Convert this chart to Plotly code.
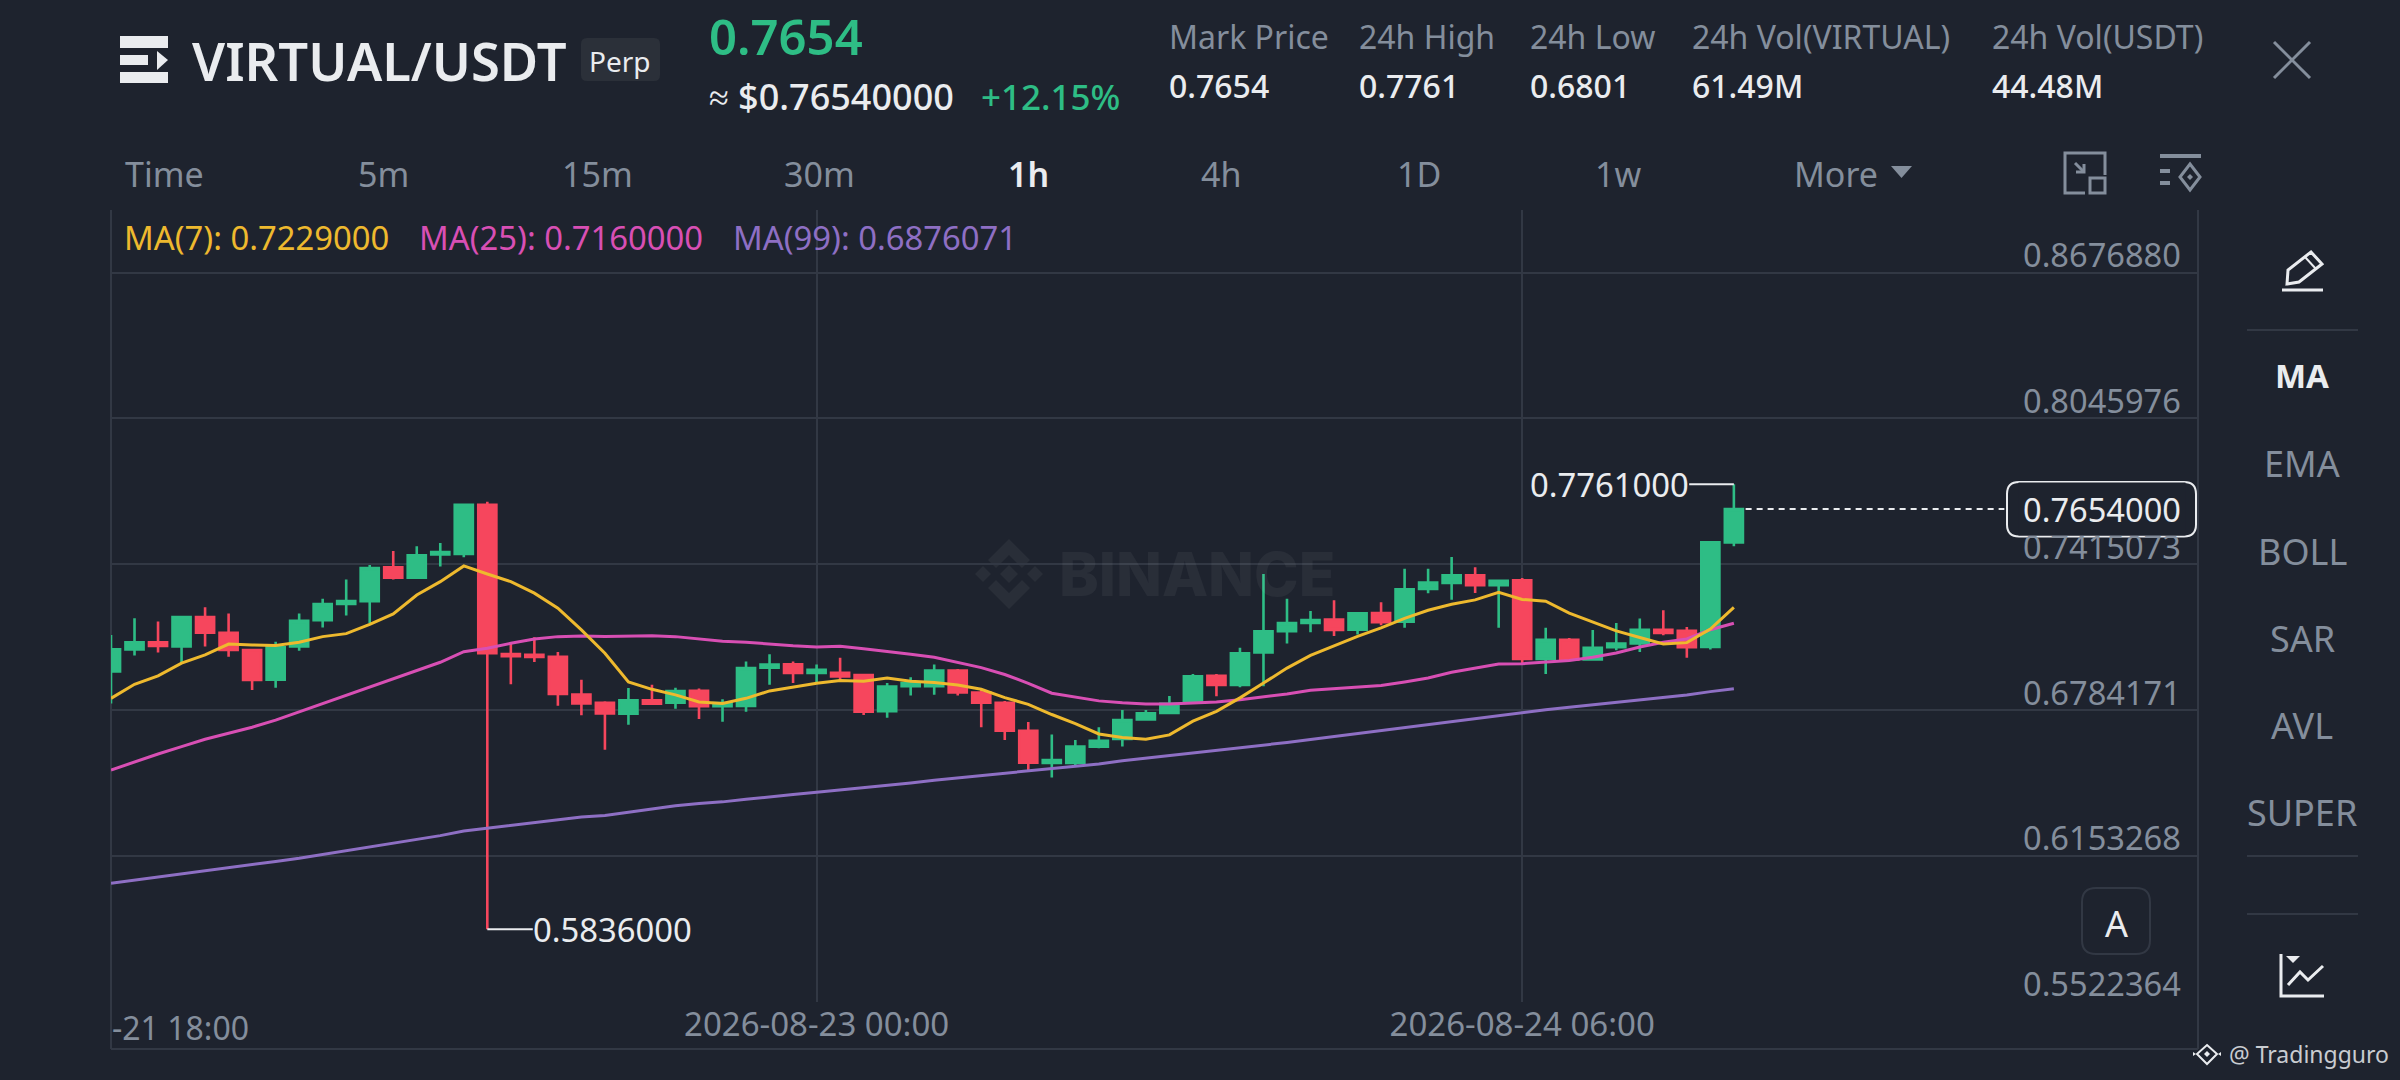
import pandas as pd
import plotly.graph_objects as go

# 1h candles
START = "2026-08-21 18:00"
OPEN = [0.6951, 0.7046, 0.7078, 0.7060, 0.7187, 0.7119, 0.7044, 0.6916, 0.7059, 0.7173,
        0.7243, 0.7255, 0.7402, 0.7357, 0.7458, 0.7460, 0.7672, 0.7027, 0.7023, 0.7015,
        0.6851, 0.6816, 0.6769, 0.6827, 0.6816, 0.6868, 0.6801, 0.6802, 0.6968, 0.6982,
        0.6945, 0.6945, 0.6936, 0.6779, 0.6888, 0.6888, 0.6955, 0.6860, 0.6816, 0.6695,
        0.6555, 0.6555, 0.6626, 0.6659, 0.6744, 0.6772, 0.6822, 0.6933, 0.6893, 0.7034,
        0.7125, 0.7161, 0.7176, 0.7132, 0.7204, 0.7167, 0.7308, 0.7334, 0.7367, 0.7324,
        0.7346, 0.7005, 0.7088, 0.7003, 0.7056, 0.7073, 0.7132, 0.7127, 0.7057, 0.7510]
HIGH = [0.7109, 0.7181, 0.7167, 0.7190, 0.7229, 0.7202, 0.7046, 0.7080, 0.7202, 0.7266,
        0.7349, 0.7412, 0.7473, 0.7493, 0.7507, 0.7678, 0.7686, 0.7078, 0.7099, 0.7036,
        0.6915, 0.6822, 0.6880, 0.6894, 0.6881, 0.6878, 0.6831, 0.6994, 0.7026, 0.6994,
        0.6981, 0.7011, 0.6939, 0.6901, 0.6926, 0.6981, 0.6962, 0.6871, 0.6824, 0.6733,
        0.6678, 0.6655, 0.6710, 0.6785, 0.6785, 0.6845, 0.6940, 0.6940, 0.7054, 0.7373,
        0.7266, 0.7213, 0.7259, 0.7209, 0.7251, 0.7396, 0.7396, 0.7447, 0.7402, 0.7349,
        0.7356, 0.7140, 0.7096, 0.7131, 0.7161, 0.7180, 0.7216, 0.7144, 0.7513, 0.7761]
LOW = [0.6813, 0.7020, 0.7033, 0.6987, 0.7059, 0.7015, 0.6871, 0.6881, 0.7041, 0.7142,
       0.7193, 0.7160, 0.7349, 0.7353, 0.7405, 0.7445, 0.5836, 0.6896, 0.6992, 0.6803,
       0.6762, 0.6612, 0.6721, 0.6806, 0.6790, 0.6746, 0.6734, 0.6777, 0.6894, 0.6901,
       0.6900, 0.6914, 0.6763, 0.6751, 0.6847, 0.6850, 0.6847, 0.6710, 0.6655, 0.6522,
       0.6492, 0.6540, 0.6619, 0.6627, 0.6738, 0.6769, 0.6822, 0.6844, 0.6883, 0.6887,
       0.7072, 0.7121, 0.7105, 0.7111, 0.7151, 0.7140, 0.7290, 0.7262, 0.7291, 0.7140,
       0.6985, 0.6940, 0.6998, 0.7000, 0.7043, 0.7036, 0.7108, 0.7011, 0.7046, 0.7493]
CLOSE = [0.7047, 0.7078, 0.7062, 0.7187, 0.7119, 0.7044, 0.6915, 0.7056, 0.7170, 0.7243,
         0.7256, 0.7399, 0.7357, 0.7454, 0.7468, 0.7672, 0.7030, 0.7017, 0.7014, 0.6854,
         0.6813, 0.6770, 0.6827, 0.6812, 0.6867, 0.6801, 0.6815, 0.6966, 0.6981, 0.6945,
         0.6958, 0.6930, 0.6777, 0.6886, 0.6901, 0.6955, 0.6860, 0.6816, 0.6695, 0.6557,
         0.6568, 0.6626, 0.6651, 0.6741, 0.6770, 0.6811, 0.6930, 0.6893, 0.7030, 0.7125,
         0.7161, 0.7174, 0.7131, 0.7203, 0.7164, 0.7307, 0.7336, 0.7367, 0.7324, 0.7344,
         0.7005, 0.7088, 0.7003, 0.7054, 0.7072, 0.7132, 0.7118, 0.7056, 0.7510, 0.7654]
MA7 = [0.6835, 0.6896, 0.6932, 0.6987, 0.7023, 0.7070, 0.7066, 0.7064, 0.7078, 0.7102,
       0.7115, 0.7155, 0.7200, 0.7282, 0.7340, 0.7408, 0.7373, 0.7340, 0.7290, 0.7225,
       0.7131, 0.7030, 0.6906, 0.6874, 0.6850, 0.6819, 0.6813, 0.6835, 0.6867, 0.6884,
       0.6900, 0.6912, 0.6909, 0.6923, 0.6909, 0.6904, 0.6893, 0.6874, 0.6838, 0.6809,
       0.6765, 0.6726, 0.6681, 0.6666, 0.6658, 0.6677, 0.6736, 0.6779, 0.6837, 0.6901,
       0.6966, 0.7021, 0.7063, 0.7103, 0.7140, 0.7181, 0.7216, 0.7242, 0.7261, 0.7294,
       0.7263, 0.7255, 0.7204, 0.7165, 0.7127, 0.7098, 0.7070, 0.7076, 0.7135, 0.7229]
MA25 = [0.6525, 0.6561, 0.6594, 0.6626, 0.6658, 0.6684, 0.6710, 0.6741, 0.6777, 0.6813,
        0.6847, 0.6886, 0.6922, 0.6958, 0.6991, 0.7037, 0.7052, 0.7073, 0.7092, 0.7102,
        0.7105, 0.7103, 0.7105, 0.7106, 0.7102, 0.7093, 0.7082, 0.7078, 0.7069, 0.7062,
        0.7057, 0.7060, 0.7050, 0.7039, 0.7026, 0.7013, 0.6990, 0.6968, 0.6938, 0.6900,
        0.6857, 0.6840, 0.6824, 0.6816, 0.6811, 0.6811, 0.6815, 0.6819, 0.6829, 0.6841,
        0.6854, 0.6870, 0.6877, 0.6884, 0.6891, 0.6906, 0.6923, 0.6948, 0.6966, 0.6984,
        0.6985, 0.6991, 0.6999, 0.7013, 0.7031, 0.7057, 0.7078, 0.7092, 0.7132, 0.7160]
MA99 = [0.6035, 0.6048, 0.6061, 0.6075, 0.6088, 0.6101, 0.6114, 0.6129, 0.6143, 0.6159,
        0.6175, 0.6192, 0.6208, 0.6225, 0.6241, 0.6261, 0.6273, 0.6286, 0.6299, 0.6310,
        0.6322, 0.6328, 0.6342, 0.6357, 0.6370, 0.6380, 0.6387, 0.6398, 0.6410, 0.6419,
        0.6429, 0.6439, 0.6446, 0.6459, 0.6469, 0.6481, 0.6491, 0.6501, 0.6511, 0.6522,
        0.6530, 0.6540, 0.6551, 0.6565, 0.6576, 0.6586, 0.6598, 0.6608, 0.6621, 0.6633,
        0.6644, 0.6657, 0.6670, 0.6682, 0.6695, 0.6708, 0.6721, 0.6734, 0.6747, 0.6761,
        0.6776, 0.6786, 0.6796, 0.6807, 0.6819, 0.6829, 0.6839, 0.6849, 0.6864, 0.6876071]

Y_TICKS = [0.8676880, 0.8045976, 0.7415073, 0.6784171, 0.6153268, 0.5522364]
X_TICKS = ["2026-08-21 18:00", "2026-08-23 00:00", "2026-08-24 06:00"]
X_LABELS = ["", "2026-08-23 00:00", "2026-08-24 06:00"]
Y_TOP = 0.8948
LAST_PRICE = 0.7654
HIGH_MARK = 0.7761
LOW_MARK = 0.5836
HIGH_TIME = "2026-08-24 15:00"
LOW_TIME = "2026-08-22 10:00"

STATS = [("Mark Price", "0.7654", 1167), ("24h High", "0.7761", 1357), ("24h Low", "0.6801", 1528),
         ("24h Vol(VIRTUAL)", "61.49M", 1690), ("24h Vol(USDT)", "44.48M", 1990)]
TABS = [("Time", 164), ("5m", 383), ("15m", 597), ("30m", 819), ("1h", 1028),
        ("4h", 1221), ("1D", 1419), ("1w", 1618), ("More", 1836)]
LEGEND = [("MA(7): 0.7229000", 122), ("MA(25): 0.7160000", 417), ("MA(99): 0.6876071", 731)]
SIDE = [("MA", 376), ("EMA", 464), ("BOLL", 551), ("SAR", 638), ("AVL", 725), ("SUPER", 812)]

BG = "#1e232e"
GRID = "#323844"
GREEN = "#2ebd85"
RED = "#f6465d"
WHITE = "#eaecef"
GREY = "#848e9c"
YELLOW = "#eeb92e"
PINK = "#d84fb4"
PURPLE = "#8e6fc4"
FONT = "Noto Sans"
W, H = 2400, 1080


def px(x):
    return x / W


def py(y):
    return 1 - y / H


def path(points, close=True):
    d = "M " + " L ".join(f"{px(x)},{py(y)}" for x, y in points)
    return d + (" Z" if close else "")


def round_rect(x0, y0, x1, y1, r):
    return (f"M {px(x0 + r)},{py(y0)} L {px(x1 - r)},{py(y0)} Q {px(x1)},{py(y0)} {px(x1)},{py(y0 + r)} "
            f"L {px(x1)},{py(y1 - r)} Q {px(x1)},{py(y1)} {px(x1 - r)},{py(y1)} "
            f"L {px(x0 + r)},{py(y1)} Q {px(x0)},{py(y1)} {px(x0)},{py(y1 - r)} "
            f"L {px(x0)},{py(y0 + r)} Q {px(x0)},{py(y0)} {px(x0 + r)},{py(y0)} Z")


shapes = []
notes = []


def draw(d, stroke=None, width=3, fill=None, layer="above"):
    shapes.append(dict(type="path", path=d, xref="paper", yref="paper", layer=layer,
                       fillcolor=fill or "rgba(0,0,0,0)",
                       line=dict(color=stroke or "rgba(0,0,0,0)", width=width if stroke else 0)))


def label(text, x, y, size=32.8, color=WHITE, anchor="center", weight=400, family=FONT):
    notes.append(dict(text=text, x=px(x), y=py(y), xref="paper", yref="paper", xanchor=anchor,
                      yanchor="middle", showarrow=False,
                      font=dict(family=family, size=size, color=color, weight=weight)))


fig = go.Figure()
hours = pd.date_range(START, periods=len(CLOSE), freq="h")

fig.add_trace(go.Candlestick(
    x=hours, open=OPEN, high=HIGH, low=LOW, close=CLOSE, whiskerwidth=0,
    increasing=dict(line=dict(color=GREEN, width=2.6), fillcolor=GREEN),
    decreasing=dict(line=dict(color=RED, width=2.6), fillcolor=RED),
    hoverinfo="skip",
))
for name, vals, col in [("MA(99)", MA99, PURPLE), ("MA(25)", MA25, PINK), ("MA(7)", MA7, YELLOW)]:
    fig.add_trace(go.Scatter(x=hours, y=vals, mode="lines", name=name, hoverinfo="skip",
                             line=dict(color=col, width=3)))

# frame lines
for pts in [[(111, 210), (111, 1049)], [(2198, 210), (2198, 1049)], [(111, 1049), (2198, 1049)]]:
    draw(path(pts, close=False), stroke=GRID, width=2, layer="below")

# watermark
cx, cy = 1009, 574
wm = "rgba(255,255,255,0.05)"
for d in [
    [(cx, cy - 9), (cx + 9, cy), (cx, cy + 9), (cx - 9, cy)],
    [(cx - 26, cy - 8), (cx - 18, cy), (cx - 26, cy + 8), (cx - 34, cy)],
    [(cx + 26, cy - 8), (cx + 34, cy), (cx + 26, cy + 8), (cx + 18, cy)],
    [(cx, cy - 35), (cx + 21, cy - 14), (cx + 13, cy - 6), (cx, cy - 19), (cx - 13, cy - 6), (cx - 21, cy - 14)],
    [(cx, cy + 35), (cx + 21, cy + 14), (cx + 13, cy + 6), (cx, cy + 19), (cx - 13, cy + 6), (cx - 21, cy + 14)],
]:
    draw(path(d), fill=wm, layer="below")
label("BINANCE", 1197, 574, size=60, color=wm, weight=800, family="Inter")

# high / low / last price markers
shapes.append(dict(type="line", xref="x", yref="y", x0=HIGH_TIME, x1="2026-08-24 13:06",
                   y0=HIGH_MARK, y1=HIGH_MARK, line=dict(color=WHITE, width=2)))
shapes.append(dict(type="line", xref="x", yref="y", x0=LOW_TIME, x1="2026-08-22 11:56",
                   y0=LOW_MARK, y1=LOW_MARK, line=dict(color=WHITE, width=2)))
shapes.append(dict(type="line", xref="x", yref="y", x0="2026-08-24 15:30", x1="2026-08-25 02:30",
                   y0=LAST_PRICE, y1=LAST_PRICE, line=dict(color=WHITE, width=2, dash="6px,5px")))
notes.append(dict(text=f"{HIGH_MARK:.7f}", x="2026-08-24 13:06", y=HIGH_MARK, xref="x", yref="y",
                  xanchor="right", xshift=2, showarrow=False, font=dict(family=FONT, size=32.8, color=WHITE)))
notes.append(dict(text=f"{LOW_MARK:.7f}", x="2026-08-22 11:56", y=LOW_MARK, xref="x", yref="y",
                  xanchor="left", xshift=-2, showarrow=False, font=dict(family=FONT, size=32.8, color=WHITE)))

# y tick labels sit on top of their grid lines
for v in Y_TICKS:
    notes.append(dict(text=f"{v:.7f}", x=px(2183), y=v, xref="paper", yref="y", xanchor="right",
                      yanchor="middle", yshift=18, showarrow=False,
                      font=dict(family=FONT, size=32.6, color=GREY)))
label("-21 18:00", 110, 1027, size=32, color=GREY, anchor="left")

draw(round_rect(2007, 482, 2196, 536.5, 12), stroke=WHITE, width=2, fill=BG)
notes.append(dict(text=f"{LAST_PRICE:.7f}", x=px(2101.5), y=LAST_PRICE, xref="paper", yref="y",
                  xanchor="center", yanchor="middle", width=164, height=50, bgcolor=BG, showarrow=False,
                  font=dict(family=FONT, size=32.6, color=WHITE)))

# header
draw(path([(120, 36), (168, 36), (168, 48), (120, 48)]), fill=WHITE)
draw(path([(120, 55), (148, 55), (148, 65), (120, 65)]), fill=WHITE)
draw(path([(157, 51), (168, 60), (157, 70)]), fill=WHITE)
draw(path([(120, 72), (168, 72), (168, 83), (120, 83)]), fill=WHITE)
label("VIRTUAL/USDT", 190, 61, size=52.5, anchor="left", weight=600)
draw(round_rect(581, 38, 660, 81, 6), fill="#2b3039")
label("Perp", 620, 61, size=28)
label("0.7654", 707, 36, size=49, color=GREEN, anchor="left", weight=600)
label("≈ $0.76540000", 707, 97, size=36, anchor="left", weight=500)
label("+12.15%", 979, 97, size=35, color=GREEN, anchor="left", weight=500)
for name, value, x in STATS:
    label(name, x, 37, size=32, color=GREY, anchor="left")
    label(value, x, 85, size=32, anchor="left", weight=500)
draw(path([(2274, 42), (2310, 78)], close=False), stroke=GREY, width=3)
draw(path([(2310, 42), (2274, 78)], close=False), stroke=GREY, width=3)

# interval tabs
for name, x in TABS:
    active = name == "1h"
    label(name, x, 174, size=34, color=WHITE if active else GREY, weight=600 if active else 400)
draw(path([(1891, 166), (1912, 166), (1901.5, 178)]), fill=GREY)
draw(path([(2105, 175), (2105, 153), (2065, 153), (2065, 193), (2085, 193)], close=False), stroke=GREY)
draw(path([(2090, 178), (2105, 178), (2105, 193), (2090, 193)]), stroke=GREY)
draw(path([(2075, 163), (2084, 172)], close=False), stroke=GREY)
draw(path([(2084, 164), (2084, 172), (2076, 172)], close=False), stroke=GREY)
draw(path([(2160, 156), (2201, 156)], close=False), stroke=GREY, width=4)
draw(path([(2160, 171), (2170, 171)], close=False), stroke=GREY, width=4)
draw(path([(2160, 183), (2170, 183)], close=False), stroke=GREY, width=4)
draw(path([(2190, 164), (2200, 177), (2190, 190), (2180, 177)]), stroke=GREY)
draw(path([(2190, 174), (2193, 177), (2190, 180), (2187, 177)]), fill=GREY)

# legend
for (text, x), col in zip(LEGEND, [YELLOW, PINK, PURPLE]):
    label(text, x, 238, color=col, anchor="left")

# side panel
draw(path([(2287, 284), (2288, 270), (2311, 252), (2322, 264), (2299, 282)]), stroke=WHITE)
draw(path([(2305, 257), (2316, 269)], close=False), stroke=WHITE, width=2)
draw(path([(2282, 290), (2323, 290)], close=False), stroke=WHITE)
for y in [330, 856, 914]:
    draw(path([(2247, y), (2358, y)], close=False), stroke=GRID, width=2)
for name, y in SIDE:
    if name == "MA":
        label(name, 2302, y, size=33, weight=700)
    else:
        label(name, 2302, y, size=36, color=GREY)
draw(round_rect(2082, 888, 2150, 954, 14), stroke="#323844", width=2)
label("A", 2116, 923, size=36)
draw(path([(2281, 954), (2281, 996), (2324, 996)], close=False), stroke=WHITE)
draw(path([(2288, 985), (2300, 972), (2308, 980), (2323, 966)], close=False), stroke=WHITE)
draw(path([(2286, 956), (2300, 956), (2293, 963)]), fill=WHITE)

# credit bottom right
draw(path([(2207, 1045), (2217, 1054), (2207, 1064), (2197, 1054)]), stroke=WHITE, width=2)
draw(path([(2207, 1051), (2210, 1054), (2207, 1057), (2204, 1054)]), fill=WHITE)
draw(path([(2193, 1052), (2196, 1054), (2193, 1056)]), fill=WHITE)
draw(path([(2221, 1052), (2218, 1054), (2221, 1056)]), fill=WHITE)
label("@ Tradingguro", 2227, 1054, size=23, color="#c9ccd1", anchor="left")

fig.update_layout(
    width=W, height=H,
    margin=dict(l=0, r=0, t=0, b=0),
    paper_bgcolor=BG, plot_bgcolor=BG,
    showlegend=False, hovermode=False,
    boxgap=0.23, boxgroupgap=0,
    shapes=shapes, annotations=notes,
    xaxis=dict(domain=[px(111), px(2198)], type="date", range=[START, "2026-08-25 10:44"],
               rangeslider=dict(visible=False), tickvals=X_TICKS, ticktext=X_LABELS,
               showgrid=True, gridcolor=GRID, gridwidth=2, zeroline=False, showline=False,
               ticks="", tickfont=dict(family=FONT, size=33, color=GREY)),
    yaxis=dict(domain=[py(1001.7), py(210)], range=[Y_TICKS[-1], Y_TOP], tickvals=Y_TICKS,
               showticklabels=False, showgrid=True, gridcolor=GRID, gridwidth=2,
               zeroline=False, showline=False),
)

fig.write_html("out.html", config={"displayModeBar": False},
               post_script="document.body.style.margin='0';document.body.style.overflow='hidden';")
